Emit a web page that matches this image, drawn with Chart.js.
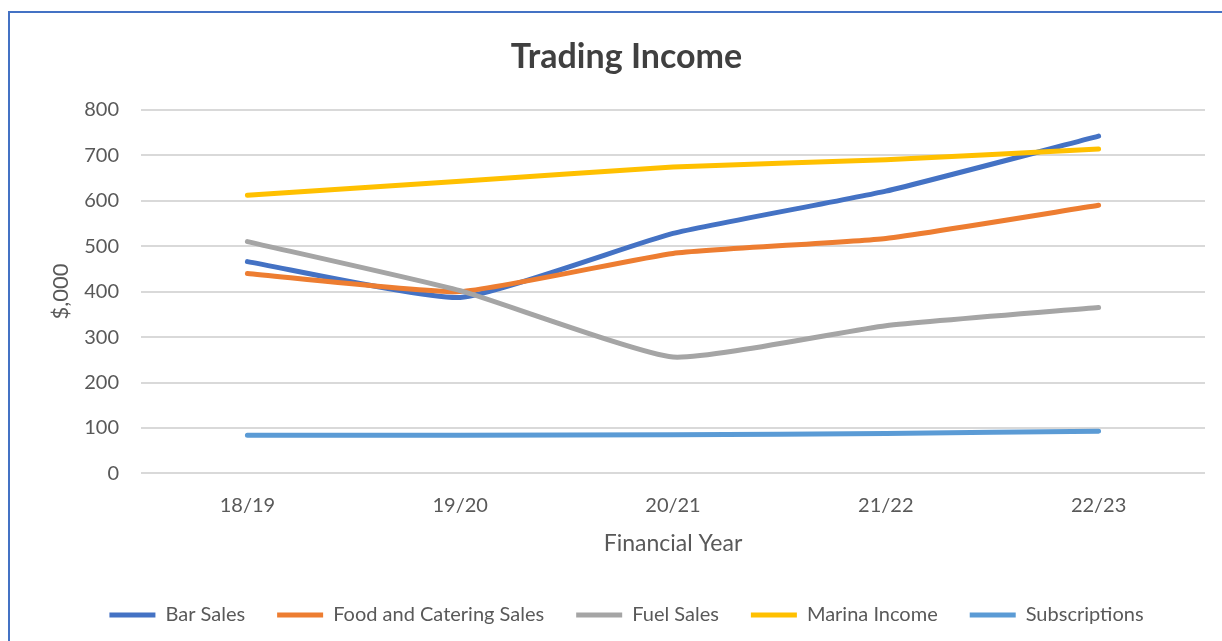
<!DOCTYPE html>
<html>
<head>
<meta charset="utf-8">
<script src="https://cdn.jsdelivr.net/npm/chart.js@4/dist/chart.umd.min.js"></script>
<style>
    body { margin: 0; background: #fff; }
    #frame {
        position: absolute; left: 8px; top: 11px; width: 1300px; height: 700px;
        border-left: 2px solid #4472C4; border-top: 2px solid #4472C4;
    }
    #wrap { position: absolute; left: 0; top: 0; width: 1222px; height: 641px; }
</style>
</head>
<body>
<div id="frame"></div>
<div id="wrap"><canvas id="myChart"></canvas></div>
<script>
// values in $,000
const years = ['18/19', '19/20', '20/21', '21/22', '22/23'];
const barSales = [466, 387, 528, 621, 742];
const foodSales = [440, 400, 484, 517, 590];
const fuelSales = [510, 402, 256, 325, 365];
const marinaIncome = [612, 643, 674, 690, 714];
const subscriptions = [84, 84, 85, 88, 93];

const textCol = '#595959';
const fontName = 'Lato, "Open Sans", sans-serif';

function series(label, data, color, order) {
    return {
        label: label,
        data: data,
        borderColor: color,
        backgroundColor: color,
        borderWidth: 5,
        borderCapStyle: 'round',
        borderJoinStyle: 'round',
        pointRadius: 0,
        pointStyle: 'line',
        tension: 0.15,
        order: order
    };
}

const ctx = document.getElementById('myChart').getContext('2d');
const myChart = new Chart(ctx, {
    type: 'line',
    data: {
        labels: years,
        datasets: [
            series('Bar Sales', barSales, '#4472C4', 5),
            series('Food and Catering Sales', foodSales, '#ED7D31', 4),
            series('Fuel Sales', fuelSales, '#A5A5A5', 3),
            series('Marina Income', marinaIncome, '#FFC000', 2),
            series('Subscriptions', subscriptions, '#5B9BD5', 1)
        ]
    },
    options: {
        responsive: true,
        maintainAspectRatio: false,
        animation: false,
        layout: { padding: { left: 48, right: 17, top: 0, bottom: 6 } },
        plugins: {
            title: {
                display: true,
                text: 'Trading Income',
                color: '#404040',
                font: { family: fontName, size: 34, weight: 'bold' },
                padding: { top: 37, bottom: 32 }
            },
            legend: {
                position: 'bottom',
                labels: {
                    usePointStyle: true,
                    pointStyleWidth: 46,
                    color: textCol,
                    font: { family: fontName, size: 20 },
                    padding: 32,
                    sort: (a, b) => a.datasetIndex - b.datasetIndex
                }
            },
            tooltip: { enabled: false }
        },
        scales: {
            x: {
                offset: true,
                grid: { display: false },
                border: { display: false },
                ticks: { color: textCol, font: { family: fontName, size: 20 }, padding: 12 },
                title: {
                    display: true, text: 'Financial Year', color: textCol,
                    font: { family: fontName, size: 23 }, padding: { top: 0, bottom: 16 }
                }
            },
            y: {
                min: 0,
                max: 800,
                ticks: { stepSize: 100, color: textCol, font: { family: fontName, size: 20 }, padding: 22 },
                grid: { color: '#D9D9D9', lineWidth: 2, drawTicks: false },
                border: { display: false },
                title: {
                    display: true, text: '$,000', color: textCol,
                    font: { family: fontName, size: 22 }, padding: 0
                },
                afterFit: (scale) => { scale.width = 93; }
            }
        }
    }
});
</script>
</body>
</html>
